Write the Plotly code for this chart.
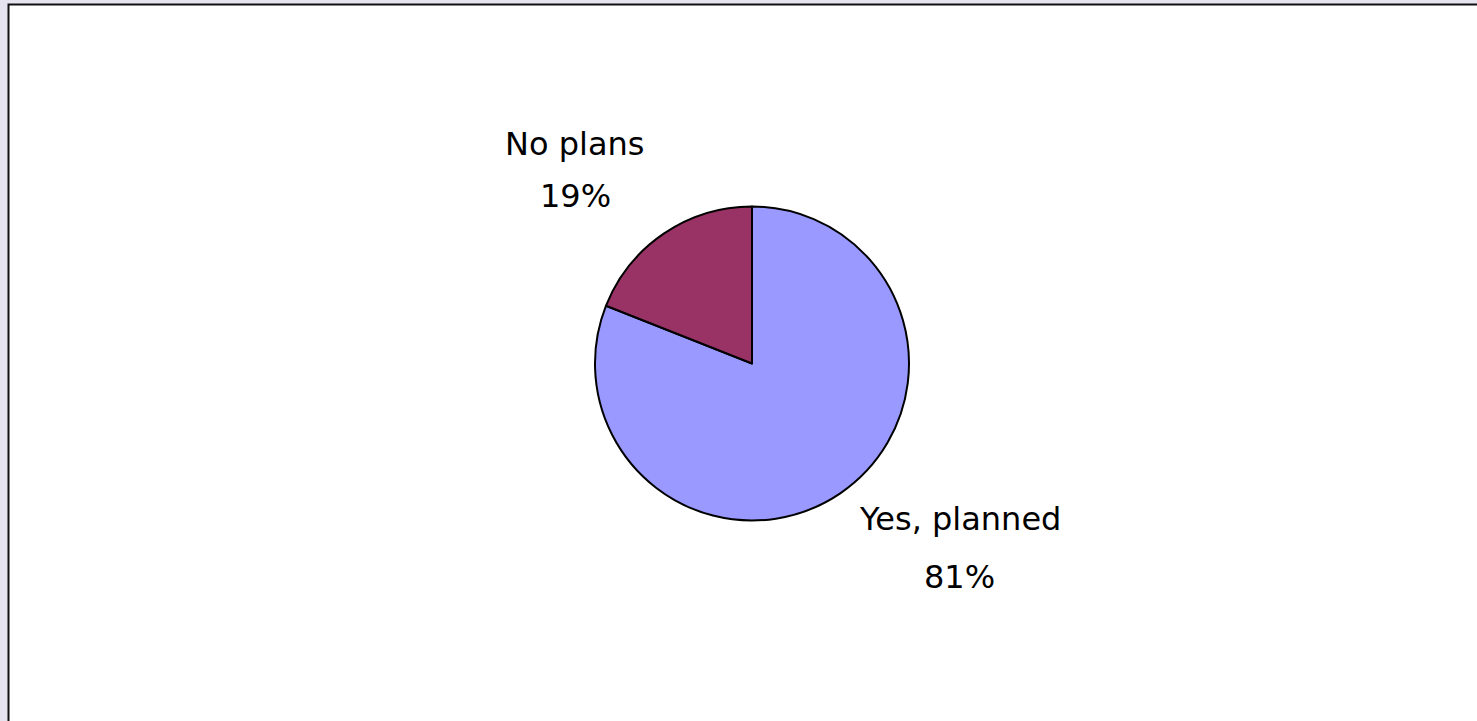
import plotly.graph_objects as go

W, H = 1477, 721

labels = ["Yes, planned", "No plans"]
values = [81, 19]
colors = ["#9999FF", "#993366"]

# label anchor positions (pixels) for each slice's label and percent lines
label_pos = [(960, 519), (574, 144)]
pct_pos = [(960, 577), (575, 196)]


def px(x):
    return x / W


def py(y):
    return 1 - y / H


cx, cy, r = 752, 363.5, 157

fig = go.Figure()
fig.add_trace(go.Pie(
    labels=labels,
    values=values,
    sort=False,
    direction="clockwise",
    rotation=0,
    marker=dict(colors=colors, line=dict(color="#000000", width=2)),
    textinfo="none",
    showlegend=False,
    domain=dict(x=[px(cx - r), px(cx + r)], y=[py(cy + r), py(cy - r)]),
))

total = sum(values)
font = dict(family="DejaVu Sans, Liberation Sans, Arial, sans-serif", size=32, color="#000000")
for lab, val, (lx, ly), (qx, qy) in zip(labels, values, label_pos, pct_pos):
    fig.add_annotation(x=px(lx), y=py(ly), xref="paper", yref="paper",
                       text=lab, showarrow=False, font=font,
                       xanchor="center", yanchor="middle")
    fig.add_annotation(x=px(qx), y=py(qy), xref="paper", yref="paper",
                       text=f"{round(100 * val / total)}%", showarrow=False, font=font,
                       xanchor="center", yanchor="middle")

fig.add_shape(type="rect", xref="paper", yref="paper",
              x0=px(8.5), x1=px(W + 10), y0=py(H + 10), y1=py(4.5),
              fillcolor="#FFFFFF", line=dict(color="#111111", width=2), layer="below")

fig.update_layout(
    width=W, height=H,
    margin=dict(l=0, r=0, t=0, b=0),
    paper_bgcolor="#E6E4EE",
    plot_bgcolor="#FFFFFF",
)

fig.write_html("out.html")
